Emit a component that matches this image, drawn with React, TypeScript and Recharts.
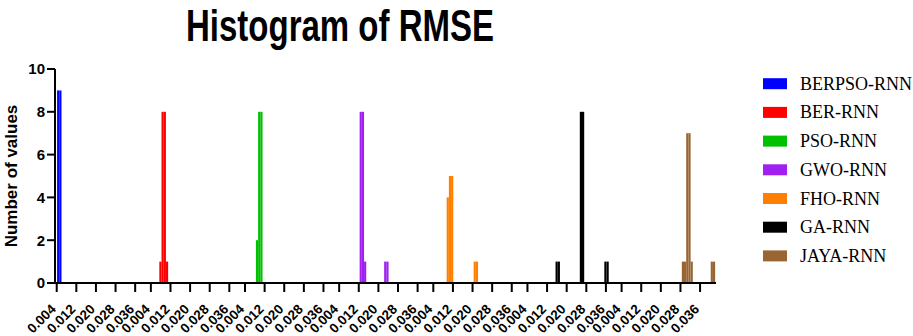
import React from "react";
import { BarChart, Bar, XAxis, YAxis } from "recharts";

const seriesNames = ["BERPSO-RNN", "BER-RNN", "PSO-RNN", "GWO-RNN", "FHO-RNN", "GA-RNN", "JAYA-RNN"];
const seriesColors = ["#0000ff", "#ff0000", "#00c000", "#a020f0", "#ff8000", "#000000", "#996633"];

// bin centres (RMSE) and counts for each model
const berpsoBins = [0.0046, 0.0055];
const berpsoCounts = [9, 9];
const berBins = [0.0079, 0.0088, 0.0097, 0.0106];
const berCounts = [1, 8, 8, 1];
const psoBins = [0.0089, 0.0098, 0.0107];
const psoCounts = [2, 8, 8];
const gwoBins = [0.0128, 0.0137, 0.0146, 0.0228, 0.0237];
const gwoCounts = [8, 8, 1, 1, 1];
const fhoBins = [0.0099, 0.0108, 0.0117, 0.0209, 0.0218];
const fhoCounts = [4, 5, 5, 1, 1];
const gaBins = [0.0159, 0.0168, 0.0258, 0.0267, 0.0358, 0.0367];
const gaCounts = [1, 1, 8, 8, 1, 1];
const jayaBins = [0.029, 0.0299, 0.0308, 0.0317, 0.0326, 0.0408, 0.0417];
const jayaCounts = [1, 1, 7, 7, 1, 1, 1];

const tickLabels = ["0.004", "0.012", "0.020", "0.028", "0.036"];
const yTicks = [0, 2, 4, 6, 8, 10];

const allBins = [berpsoBins, berBins, psoBins, gwoBins, fhoBins, gaBins, jayaBins];
const allCounts = [berpsoCounts, berCounts, psoCounts, gwoCounts, fhoCounts, gaCounts, jayaCounts];

const W = 913;
const H = 336;
const margin = { top: 69, right: 197, bottom: 8, left: 10 };
const Y_AXIS_W = 45;
const X_AXIS_H = 45;

// each model gets its own block on the x axis (units of 0.001)
const PERIOD = 38.4;
const X_DOMAIN: [number, number] = [3.3, 272.9];
const BIN = 0.9;
const plotW = W - margin.left - margin.right - Y_AXIS_W;
const barPx = (BIN * plotW) / (X_DOMAIN[1] - X_DOMAIN[0]) - 0.01;

const r2 = (v: number) => Math.round(v * 100) / 100;

const rows: any[] = [];
allBins.forEach((bins, i) =>
  bins.forEach((b, j) => rows.push({ x: r2(i * PERIOD + b * 1000), [seriesNames[i]]: allCounts[i][j] }))
);
rows.sort((a, b) => a.x - b.x);

const xTicks: number[] = [];
const tickText = new Map<number, string>();
seriesNames.forEach((_, i) =>
  tickLabels.forEach((t) => {
    const v = r2(i * PERIOD + parseFloat(t) * 1000);
    xTicks.push(v);
    tickText.set(v, t);
  })
);

const sans = "'Liberation Sans', Arial, sans-serif";
const serif = "'Liberation Serif', 'Times New Roman', serif";

function XTick({ x, y, payload }: any) {
  const ty = y + 16;
  return (
    <text
      x={x}
      y={ty}
      transform={`rotate(-45 ${x} ${ty})`}
      textAnchor="end"
      fontFamily={sans}
      fontWeight="bold"
      fontSize={13.5}
      fill="#000"
    >
      {tickText.get(payload.value) ?? ""}
    </text>
  );
}

export default function App() {
  return (
    <div style={{ position: "relative", width: W, height: H, background: "#fff" }}>
      <style>{"body{margin:0}"}</style>
      <BarChart width={W} height={H} data={rows} margin={margin}>
        <XAxis
          dataKey="x"
          type="number"
          domain={X_DOMAIN}
          ticks={xTicks}
          interval={0}
          height={X_AXIS_H}
          tick={<XTick />}
          axisLine={{ stroke: "#000", strokeWidth: 2 }}
          tickLine={{ stroke: "#000", strokeWidth: 2 }}
          tickSize={9}
        />
        <YAxis
          domain={[0, 10]}
          ticks={yTicks}
          interval={0}
          width={Y_AXIS_W}
          axisLine={{ stroke: "#000", strokeWidth: 2 }}
          tickLine={{ stroke: "#000", strokeWidth: 2 }}
          tickSize={8}
          tick={{ fill: "#000", fontFamily: sans, fontWeight: "bold", fontSize: 15 }}
        />
        {seriesNames.map((name, i) => (
          <Bar
            key={name}
            dataKey={name}
            stackId="h"
            fill={seriesColors[i]}
            barSize={barPx}
            isAnimationActive={false}
          />
        ))}
      </BarChart>
      <svg width={W} height={H} style={{ position: "absolute", left: 0, top: 0, pointerEvents: "none" }}>
        <text
          x={186}
          y={41}
          textLength={308}
          lengthAdjust="spacingAndGlyphs"
          fontFamily={sans}
          fontWeight="bold"
          fontSize={44}
          fill="#000"
        >
          Histogram of RMSE
        </text>
        <text
          x={17}
          y={176}
          transform="rotate(-90 17 176)"
          textAnchor="middle"
          fontFamily={sans}
          fontWeight="bold"
          fontSize={17}
          fill="#000"
        >
          Number of values
        </text>
        {seriesNames.map((name, i) => {
          const cy = 83.7 + i * 28.7;
          return (
            <g key={name}>
              <rect x={763} y={cy - 5.5} width={24} height={11} fill={seriesColors[i]} />
              <text x={800} y={cy + 6} fontFamily={serif} fontSize={18} fill="#000">
                {name}
              </text>
            </g>
          );
        })}
      </svg>
    </div>
  );
}
